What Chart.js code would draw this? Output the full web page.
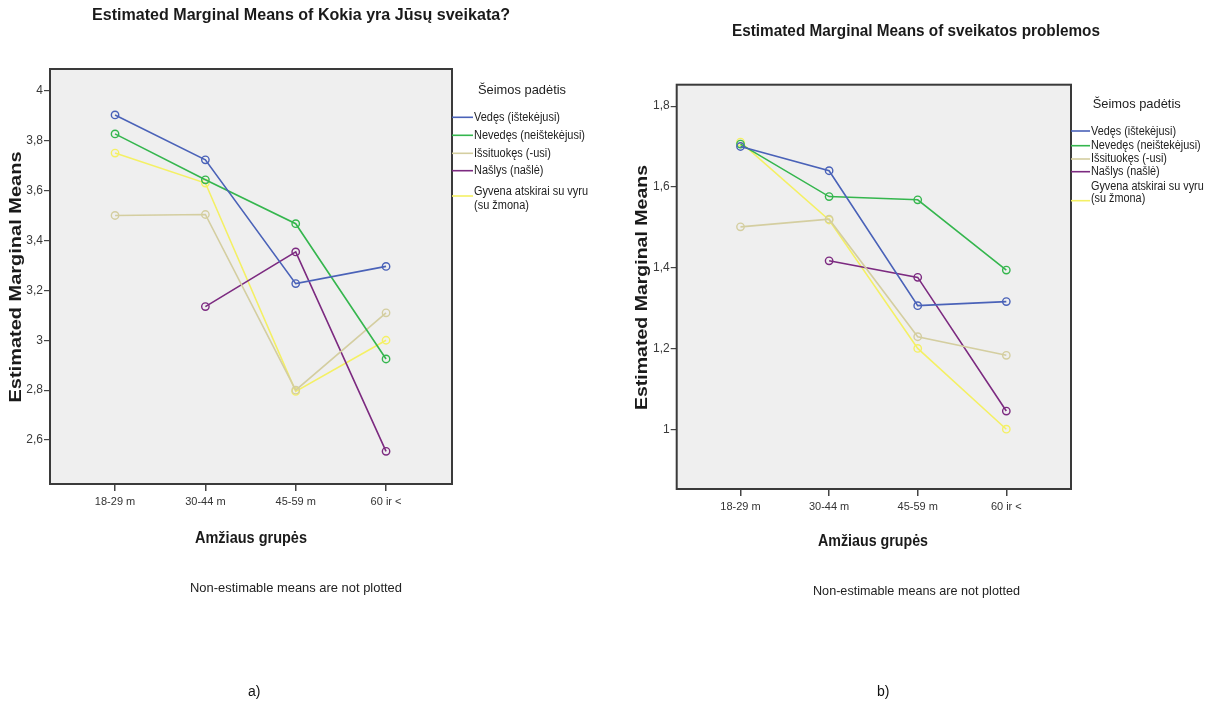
<!DOCTYPE html>
<html><head><meta charset="utf-8">
<script src="https://cdn.jsdelivr.net/npm/chart.js@4/dist/chart.umd.min.js"></script>
<style>
html,body{margin:0;padding:0;background:#fff;width:1212px;height:704px;overflow:hidden}
canvas{position:absolute;left:0;top:0}
.lab{position:absolute;font-family:"Liberation Sans",Arial,sans-serif;font-size:14px;color:#111;line-height:16px}
</style></head><body>
<canvas id="c1" width="1212" height="704"></canvas>
<canvas id="c2" width="1212" height="704"></canvas>
<div class="lab" style="left:248px;top:683px">a)</div>
<div class="lab" style="left:877px;top:683px">b)</div>
<script>
// ---------- data ----------
const categories = ["18-29 m", "30-44 m", "45-59 m", "60 ir <"];
const seriesNames = ["Vedęs (ištekėjusi)", "Nevedęs (neištekėjusi)", "Išsituokęs (-usi)", "Našlys (našlė)", "Gyvena atskirai su vyru (su žmona)"];
const seriesColors = ["#4a62b8", "#35b64e", "#d4cea0", "#7c2a80", "#f4f064"];

// chart a) Kokia yra Jūsų sveikata?
const vedesA      = [3.903, 3.723, 3.227, 3.296];
const nevedesA    = [3.827, 3.643, 3.467, 2.925];
const issituokesA = [3.500, 3.504, 2.800, 3.110];
const naslysA     = [null,  3.135, 3.354, 2.555];
const gyvenaA     = [3.750, 3.630, 2.795, 3.000];
const yTicksA     = [2.6, 2.8, 3.0, 3.2, 3.4, 3.6, 3.8, 4.0];

// chart b) sveikatos problemos
const vedesB      = [1.700, 1.640, 1.306, 1.316];
const nevedesB    = [1.706, 1.576, 1.568, 1.394];
const issituokesB = [1.501, 1.520, 1.229, 1.183];
const naslysB     = [null,  1.417, 1.376, 1.045];
const gyvenaB     = [1.711, 1.518, 1.200, 1.000];
const yTicksB     = [1.0, 1.2, 1.4, 1.6, 1.8];

const titleA = "Estimated Marginal Means of Kokia yra Jūsų sveikata?";
const titleB = "Estimated Marginal Means of sveikatos problemos";
const yTitle = "Estimated Marginal Means";
const xTitle = "Amžiaus grupės";
const legendTitle = "Šeimos padėtis";
const note = "Non-estimable means are not plotted";

// ---------- helpers ----------
const NARROW = "'Liberation Sans Narrow','Liberation Sans',Arial,sans-serif";
const SANS = "'Liberation Sans',Arial,sans-serif";

function fitText(ctx, text, cx, cy, w, font, color, rot, align) {
  ctx.save();
  ctx.font = font;
  ctx.fillStyle = color;
  ctx.textBaseline = "middle";
  ctx.textAlign = align || "center";
  const m = ctx.measureText(text).width;
  ctx.translate(cx, cy);
  if (rot) ctx.rotate(rot);
  ctx.scale(w / m, 1);
  ctx.fillText(text, 0, 0);
  ctx.restore();
}

function buildDatasets(arrs) {
  return arrs.map((arr, i) => ({
    label: seriesNames[i],
    data: arr.map((v, j) => ({ x: j, y: v })),
    borderColor: seriesColors[i],
    backgroundColor: "rgba(0,0,0,0)",
    pointBorderColor: seriesColors[i],
    pointBackgroundColor: "rgba(0,0,0,0)",
    borderWidth: 1.6,
    pointRadius: 3.7,
    pointBorderWidth: 1.4,
    pointStyle: "circle",
    spanGaps: false,
    tension: 0,
    order: i
  }));
}

function makeChart(id, arrs, yMin, yMax, yTicks, L) {
  const deco = {
    id: "deco" + id,
    beforeDraw(chart) {
      const { ctx, chartArea: a } = chart;
      ctx.save();
      ctx.fillStyle = "#efefef";
      ctx.fillRect(a.left, a.top, a.right - a.left, a.bottom - a.top);
      ctx.restore();
    },
    afterDraw(chart) {
      const { ctx, chartArea: a } = chart;
      ctx.save();
      ctx.strokeStyle = "#3a3a3a";
      ctx.lineWidth = 2;
      ctx.strokeRect(a.left, a.top, a.right - a.left, a.bottom - a.top);
      ctx.restore();
      // titles
      fitText(ctx, L.title, L.titleX, L.titleY, L.titleW, "bold 17px " + NARROW, "#1a1a1a");
      fitText(ctx, yTitle, L.yTitleX, L.yTitleY, L.yTitleW, "bold 16px " + SANS, "#1a1a1a", -Math.PI / 2);
      fitText(ctx, xTitle, L.xTitleX, L.xTitleY, L.xTitleW, "bold 17px " + NARROW, "#1a1a1a");
      fitText(ctx, note, L.noteX, L.noteY, L.noteW, "13px " + NARROW, "#222");
      // legend
      fitText(ctx, legendTitle, L.legX, L.legTitleY, L.legTitleW, "13px " + SANS, "#222", 0, "left");
      ctx.save();
      ctx.font = "12px " + SANS;
      const k = L.legItemW / ctx.measureText(seriesNames[0]).width;
      ctx.restore();
      chart.data.datasets.forEach((ds, i) => {
        ctx.save();
        ctx.strokeStyle = ds.borderColor;
        ctx.lineWidth = 1.6;
        ctx.beginPath();
        ctx.moveTo(a.right, L.legLineY[i]);
        ctx.lineTo(L.legLineX2, L.legLineY[i]);
        ctx.stroke();
        ctx.restore();
        let name = ds.label;
        let lines = [name];
        if (name.length > 24) {
          const idx = name.indexOf(" (");
          lines = [name.slice(0, idx), name.slice(idx + 1)];
        }
        lines.forEach((t, li) => {
          ctx.save();
          ctx.font = "12px " + SANS;
          ctx.fillStyle = "#222";
          ctx.textBaseline = "middle";
          ctx.textAlign = "left";
          ctx.translate(L.legTextX, L.legTextY[i] + li * L.legLineGap);
          ctx.scale(k, 1);
          ctx.fillText(t, 0, 0);
          ctx.restore();
        });
      });
    }
  };

  return new Chart(document.getElementById(id), {
    type: "line",
    data: { datasets: buildDatasets(arrs) },
    options: {
      responsive: false,
      animation: false,
      events: [],
      layout: { padding: L.padding },
      plugins: { legend: { display: false }, title: { display: false }, tooltip: { enabled: false } },
      scales: {
        x: {
          type: "linear",
          min: -0.72, max: 3.73,
          afterBuildTicks(s) { s.ticks = categories.map((c, i) => ({ value: i })); },
          afterFit(s) { s.height = 40; },
          ticks: {
            callback: (v) => categories[v],
            autoSkip: false, maxRotation: 0,
            font: { family: SANS, size: 11 }, color: "#333", padding: 4
          },
          grid: { drawOnChartArea: false, drawTicks: true, tickLength: 7, color: "#444", lineWidth: 1.5 },
          border: { display: false }
        },
        y: {
          type: "linear",
          min: yMin, max: yMax,
          afterBuildTicks(s) { s.ticks = yTicks.map(v => ({ value: v })); },
          afterFit(s) { s.width = 50; },
          ticks: {
            callback: (v) => String(Math.round(v * 10) / 10).replace(".", ","),
            font: { family: NARROW, size: 12 }, color: "#3a3a3a", padding: 1
          },
          grid: { drawOnChartArea: false, drawTicks: true, tickLength: 6, color: "#444", lineWidth: 1.2 },
          border: { display: false }
        }
      }
    },
    plugins: [deco]
  });
}

makeChart("c1", [vedesA, nevedesA, issituokesA, naslysA, gyvenaA], 2.424, 4.087, yTicksA, {
  padding: { left: 0, top: 69, right: 760, bottom: 180 },
  title: titleA, titleX: 301, titleY: 15, titleW: 418,
  yTitleX: 17, yTitleY: 277, yTitleW: 251,
  xTitleX: 251, xTitleY: 538, xTitleW: 112,
  noteX: 296, noteY: 588, noteW: 212,
  legX: 478, legTitleY: 90, legTitleW: 88,
  legLineX2: 473, legTextX: 474, legItemW: 86,
  legLineY: [117.3, 135.3, 153.3, 170.7, 196],
  legTextY: [118, 135.7, 153.3, 170.7, 192],
  legLineGap: 14
});

makeChart("c2", [vedesB, nevedesB, issituokesB, naslysB, gyvenaB], 0.852, 1.853, yTicksB, {
  padding: { left: 626.7, top: 84.7, right: 141, bottom: 175 },
  title: titleB, titleX: 916, titleY: 31.7, titleW: 368,
  yTitleX: 643, yTitleY: 287.5, yTitleW: 245,
  xTitleX: 873, xTitleY: 541.7, xTitleW: 110,
  noteX: 916.5, noteY: 591.7, noteW: 207,
  legX: 1092.7, legTitleY: 104, legTitleW: 88,
  legLineX2: 1090, legTextX: 1091, legItemW: 85,
  legLineY: [131, 145.7, 159, 171.7, 200.7],
  legTextY: [131.7, 145.7, 159, 171.7, 186.7],
  legLineGap: 12
});
</script>
</body></html>
